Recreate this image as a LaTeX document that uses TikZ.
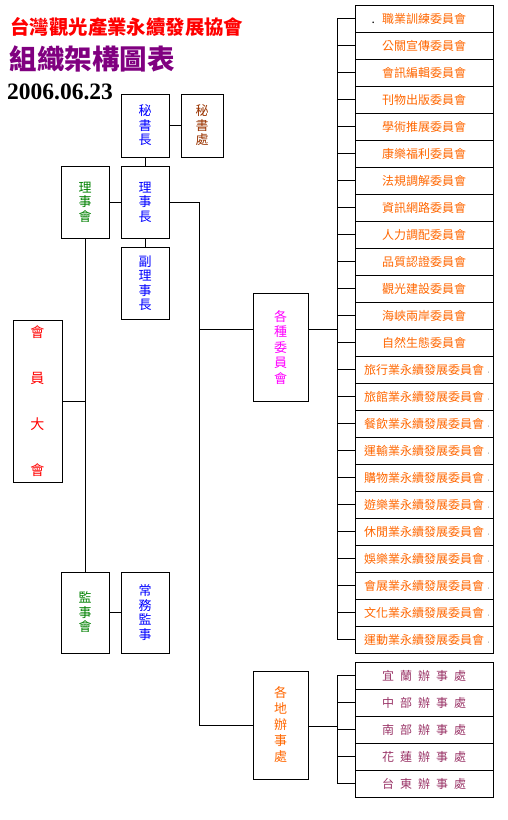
\documentclass[tikz,border=0pt]{standalone}
\usepackage{fontspec}
\setmainfont{Noto Sans CJK TC}
\newfontfamily\datefont{Liberation Serif}
\usetikzlibrary{positioning}
\definecolor{titlered}{HTML}{FF0000}
\definecolor{titlepurple}{HTML}{800080}
\definecolor{orgblue}{HTML}{0000FF}
\definecolor{orgbrown}{HTML}{993300}
\definecolor{orggreen}{HTML}{008000}
\definecolor{orgmagenta}{HTML}{FF00FF}
\definecolor{orgorange}{HTML}{FF6600}
\definecolor{orgplum}{HTML}{993366}
\newcommand{\tailmark}{\rlap{\textcolor{gray}{\,\tiny ‧}}}
\newcommand{\officefont}{\fontsize{12}{14}\selectfont\spaceskip=6pt plus 0pt minus 0pt\relax}
\tikzset{
  post/.style={draw=black, line width=1pt, inner sep=0pt, outer sep=0pt, minimum width=48pt, align=center, font=\fontsize{13}{14.5}\selectfont},
  cmte/.style={draw=black, line width=1pt, inner sep=0pt, outer sep=0pt, minimum width=138pt, minimum height=27pt, text=orgorange, font=\fontsize{12}{14}\selectfont},
  branch/.style={cmte, text=orgplum, font=\officefont},
  link/.style={line width=1pt, draw=black}
}

\begin{document}
\begin{tikzpicture}[x=1pt, y=-1pt]
  \useasboundingbox (0,0) rectangle (508,820);

  \node[anchor=west, text=titlered, font=\fontsize{19.4}{20}\selectfont\bfseries] (orgname) at (7,27) {台灣觀光產業永續發展協會};
  \node[anchor=west, text=titlepurple, font=\fontsize{27.5}{28}\selectfont\bfseries] (charttitle) at (6,59) {組織架構圖表};
  \node[anchor=base west, inner sep=0pt, font=\datefont\fontsize{23.5}{24}\selectfont\bfseries] (chartdate) at (7,99) {2006.06.23};

  \node[post, minimum height=63pt, text=orgblue] (secgen) at (145,125.5) {秘\\書\\長};
  \node[post, minimum width=42pt, minimum height=63pt, text=orgbrown] (secoff) at (202,125.5) {秘\\書\\處};
  \node[post, minimum height=72pt, text=orgblue] (chair) at (145,202) {理\\事\\長};
  \node[post, minimum height=72pt, text=orggreen] (board) at (85,202) {理\\事\\會};
  \node[post, minimum height=72pt, text=orgblue] (vice) at (145,283) {副\\理\\事\\長};
  \node[post, minimum width=49pt, minimum height=162pt, text=titlered, font=\fontsize{14}{46}\selectfont] (members) at (37.5,401) {會\\員\\大\\會};
  \node[post, minimum height=81pt, text=orggreen] (supv) at (85,612.5) {監\\事\\會};
  \node[post, minimum height=81pt, text=orgblue] (stsup) at (145,612.5) {常\\務\\監\\事};
  \node[post, minimum width=55pt, minimum height=108pt, text=orgmagenta, font=\fontsize{13}{15.5}\selectfont] (cmtes) at (280.5,347) {各\\種\\委\\員\\會};
  \node[post, minimum width=55pt, minimum height=108pt, text=orgorange, font=\fontsize{13}{16}\selectfont] (offices) at (280.5,725) {各\\地\\辦\\事\\處};

  \node[cmte] (c1) at (424,18.5) {\llap{\textcolor{black}{.}\hspace{7pt}}職業訓練委員會};
  \node[cmte, below=0pt of c1] (c2) {公關宣傳委員會};
  \node[cmte, below=0pt of c2] (c3) {會訊編輯委員會};
  \node[cmte, below=0pt of c3] (c4) {刊物出版委員會};
  \node[cmte, below=0pt of c4] (c5) {學術推展委員會};
  \node[cmte, below=0pt of c5] (c6) {康樂福利委員會};
  \node[cmte, below=0pt of c6] (c7) {法規調解委員會};
  \node[cmte, below=0pt of c7] (c8) {資訊網路委員會};
  \node[cmte, below=0pt of c8] (c9) {人力調配委員會};
  \node[cmte, below=0pt of c9] (c10) {品質認證委員會};
  \node[cmte, below=0pt of c10] (c11) {觀光建設委員會};
  \node[cmte, below=0pt of c11] (c12) {海峽兩岸委員會};
  \node[cmte, below=0pt of c12] (c13) {自然生態委員會};
  \node[cmte, below=0pt of c13] (c14) {旅行業永續發展委員會\tailmark};
  \node[cmte, below=0pt of c14] (c15) {旅館業永續發展委員會\tailmark};
  \node[cmte, below=0pt of c15] (c16) {餐飲業永續發展委員會\tailmark};
  \node[cmte, below=0pt of c16] (c17) {運輸業永續發展委員會\tailmark};
  \node[cmte, below=0pt of c17] (c18) {購物業永續發展委員會\tailmark};
  \node[cmte, below=0pt of c18] (c19) {遊樂業永續發展委員會\tailmark};
  \node[cmte, below=0pt of c19] (c20) {休閒業永續發展委員會\tailmark};
  \node[cmte, below=0pt of c20] (c21) {娛樂業永續發展委員會\tailmark};
  \node[cmte, below=0pt of c21] (c22) {會展業永續發展委員會\tailmark};
  \node[cmte, below=0pt of c22] (c23) {文化業永續發展委員會\tailmark};
  \node[cmte, below=0pt of c23] (c24) {運動業永續發展委員會\tailmark};

  \node[branch] (o1) at (424,675.5) {宜 蘭 辦 事 處};
  \node[branch, below=0pt of o1] (o2) {中 部 辦 事 處};
  \node[branch, below=0pt of o2] (o3) {南 部 辦 事 處};
  \node[branch, below=0pt of o3] (o4) {花 蓮 辦 事 處};
  \node[branch, below=0pt of o4] (o5) {台 東 辦 事 處};

  \coordinate (spine) at (199,202);
  \coordinate (cmtehub) at (337,329);
  \coordinate (officehub) at (337,726);

  \draw[link] (secgen) -- (secoff);
  \draw[link] (secgen) -- (chair);
  \draw[link] (board) -- (chair);
  \draw[link] (chair) -- (vice);
  \draw[link] (board) -- (supv);
  \draw[link] (members.east) -- (members.east -| board.south);
  \draw[link] (supv) -- (stsup);
  \draw[link] (chair.east) -- (spine) |- (offices.west);
  \draw[link] (spine) |- (cmtes.west |- cmtehub);
  \draw[link] (cmtes.east |- cmtehub) -- (cmtehub);
  \draw[link] (offices.east |- officehub) -- (officehub);

  \draw[link] (cmtehub) |- (c1.west);
  \draw[link] (cmtehub) |- (c2.west);
  \draw[link] (cmtehub) |- (c3.west);
  \draw[link] (cmtehub) |- (c4.west);
  \draw[link] (cmtehub) |- (c5.west);
  \draw[link] (cmtehub) |- (c6.west);
  \draw[link] (cmtehub) |- (c7.west);
  \draw[link] (cmtehub) |- (c8.west);
  \draw[link] (cmtehub) |- (c9.west);
  \draw[link] (cmtehub) |- (c10.west);
  \draw[link] (cmtehub) |- (c11.west);
  \draw[link] (cmtehub) |- (c12.west);
  \draw[link] (cmtehub) |- (c13.west);
  \draw[link] (cmtehub) |- (c14.west);
  \draw[link] (cmtehub) |- (c15.west);
  \draw[link] (cmtehub) |- (c16.west);
  \draw[link] (cmtehub) |- (c17.west);
  \draw[link] (cmtehub) |- (c18.west);
  \draw[link] (cmtehub) |- (c19.west);
  \draw[link] (cmtehub) |- (c20.west);
  \draw[link] (cmtehub) |- (c21.west);
  \draw[link] (cmtehub) |- (c22.west);
  \draw[link] (cmtehub) |- (c23.west);
  \draw[link] (cmtehub) |- (c24.west);

  \draw[link] (officehub) |- (o1.west);
  \draw[link] (officehub) |- (o2.west);
  \draw[link] (officehub) |- (o3.west);
  \draw[link] (officehub) |- (o4.west);
  \draw[link] (officehub) |- (o5.west);
\end{tikzpicture}
\end{document}
